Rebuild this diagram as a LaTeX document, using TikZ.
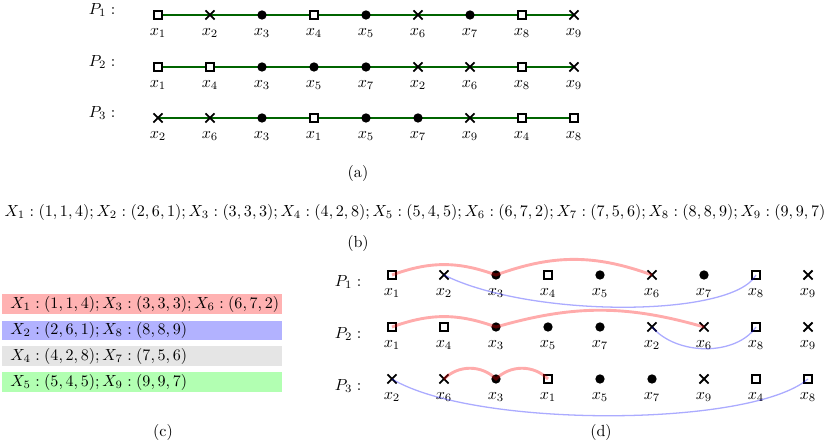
\documentclass[tikz,border=0pt]{standalone}
\usetikzlibrary{shapes.misc,backgrounds}
\def\unitpx{0.622pt}
\def\stepx{52}
\pgfmathsetlengthmacro{\boxtw}{264*\unitpx}
\pgfmathsetlengthmacro{\boxsep}{8*\unitpx}
\definecolor{pathgreen}{RGB}{0,100,0}
\tikzset{
  mk sq/.style={draw, fill=white, line width=1.1pt, minimum size=4.8pt, inner sep=0pt},
  mk cr/.style={cross out, draw, line width=1.1pt, minimum size=4.6pt, inner sep=0pt},
  mk dot/.style={circle, fill, minimum size=5.8pt, inner sep=0pt},
  xlab/.style={inner sep=0pt},
  plab/.style={inner sep=0pt},
  greenpath/.style={draw=pathgreen, line width=1.2pt},
  grpbox/.style={anchor=west, inner xsep=\boxsep, inner ysep=0pt, text width=\boxtw,
    minimum height=12.4pt, align=left},
  redlink/.style={draw=red, opacity=0.33, line width=1.8pt},
  bluelink/.style={draw=blue, opacity=0.33, line width=0.8pt},
}

% one row of variables: #1 name prefix, #2 left x, #3 row y, #4 list index/mark
\newcommand{\permrow}[4]{
  \foreach \idx/\mk [count=\i] in {#4} {
    \pgfmathsetmacro{\xpos}{#2+(\i-1)*\stepx}
    \node[mk \mk] (#1-\i) at (\xpos,#3) {};
    \node[xlab] (#1-lab\i) at (\xpos,#3+18) {$x_{\idx}$};
  }
}

\begin{document}
\begin{tikzpicture}[x=\unitpx, y=-\unitpx]
\useasboundingbox (0,0) rectangle (830,444);

% (a) the three orders
\node[plab] (pa1) at (102,10) {$P_1:$};
\node[plab] (pa2) at (102,62) {$P_2:$};
\node[plab] (pa3) at (102,113) {$P_3:$};
\permrow{a1}{158}{15}{1/sq,2/cr,3/dot,4/sq,5/dot,6/cr,7/dot,8/sq,9/cr}
\permrow{a2}{158}{67}{1/sq,4/sq,3/dot,5/dot,7/dot,2/cr,6/cr,8/sq,9/cr}
\permrow{a3}{158}{118}{2/cr,6/cr,3/dot,1/sq,5/dot,7/dot,9/cr,4/sq,8/sq}
\begin{scope}[on background layer]
  \foreach \r in {1,2,3}
    \draw[greenpath] (a\r-1.center) -- (a\r-9.center);
\end{scope}
\node (capa) at (358,173) {(a)};

% (b) the points
\node (pts) at (415,212) {$X_1:(1,1,4);X_2:(2,6,1);X_3:(3,3,3);X_4:(4,2,8);X_5:(5,4,5);X_6:(6,7,2);X_7:(7,5,6);X_8:(8,8,9);X_9:(9,9,7)$};
\node (capb) at (358,243) {(b)};

% (c) the groups
\node[grpbox, fill=red!30] (grp1) at (2,304) {\mbox{$X_1:(1,1,4);X_3:(3,3,3);X_6:(6,7,2)$}};
\node[grpbox, fill=blue!30] (grp2) at (2,330.5) {\mbox{$X_2:(2,6,1);X_8:(8,8,9)$}};
\node[grpbox, fill=gray!20] (grp3) at (2,356) {\mbox{$X_4:(4,2,8);X_7:(7,5,6)$}};
\node[grpbox, fill=green!30] (grp4) at (2,382) {\mbox{$X_5:(5,4,5);X_9:(9,9,7)$}};
\node (capc) at (163,432) {(c)};

% (d) the groups linked in each order
\node[plab] (pd1) at (348,282) {$P_1:$};
\node[plab] (pd2) at (348,334) {$P_2:$};
\node[plab] (pd3) at (348,386) {$P_3:$};
\permrow{d1}{392}{275}{1/sq,2/cr,3/dot,4/sq,5/dot,6/cr,7/dot,8/sq,9/cr}
\permrow{d2}{392}{327}{1/sq,4/sq,3/dot,5/dot,7/dot,2/cr,6/cr,8/sq,9/cr}
\permrow{d3}{392}{379}{2/cr,6/cr,3/dot,1/sq,5/dot,7/dot,9/cr,4/sq,8/sq}
\draw[redlink] (d1-1.center) to[bend left=20] (d1-3.center) to[bend left=20] (d1-6.center);
\draw[redlink] (d2-1.center) to[bend left=20] (d2-3.center) to[bend left=16] (d2-7.center);
\draw[redlink] (d3-2.center) to[bend left=45] (d3-3.center) to[bend left=45] (d3-4.center);
\draw[bluelink] (d1-2.center) .. controls +(86,43) and +(-24,43) .. (d1-8.center);
\draw[bluelink] (d2-6.center) .. controls +(25,29) and +(-20,29) .. (d2-8.center);
\draw[bluelink] (d3-1.center) .. controls +(81,49) and +(-58,49) .. (d3-9.center);
\node (capd) at (601,432) {(d)};
\end{tikzpicture}
\end{document}
